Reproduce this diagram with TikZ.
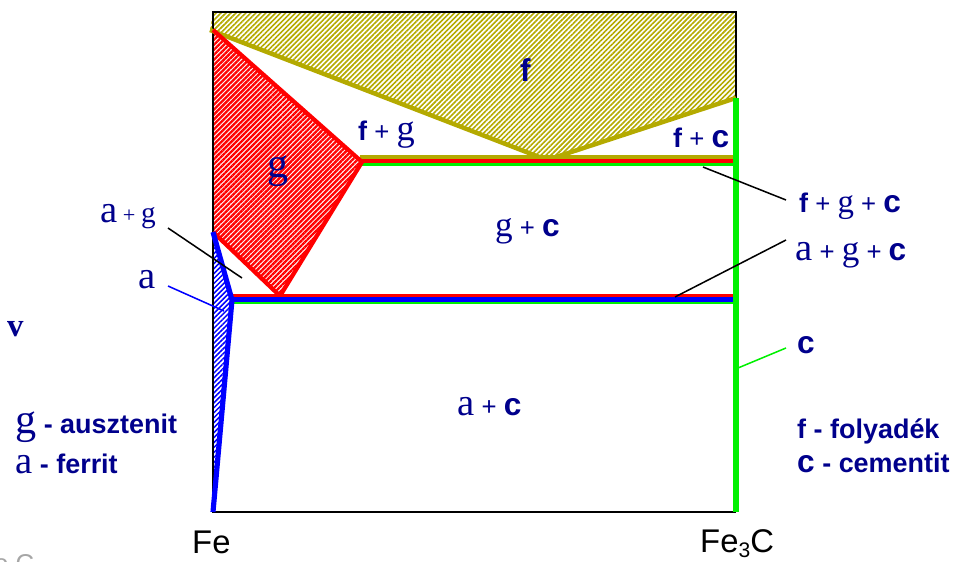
\documentclass[tikz,border=0pt]{standalone}
\usepackage{fontspec}
\setmainfont{Liberation Sans}
\newfontfamily\serf{Liberation Serif}
\usetikzlibrary{patterns.meta}
\definecolor{ink}{RGB}{0,0,140}
\definecolor{olv}{RGB}{180,170,0}
\definecolor{grn}{RGB}{0,240,0}
\newcommand\alf{{\serf\mdseries\fontsize{33}{33}\selectfont a}}
\newcommand\gam[1]{{\serf\mdseries\fontsize{#1}{#1}\selectfont g}}
\newcommand\cem{{\fontsize{27}{27}\selectfont c}}
\newcommand\pl{{\mdseries\fontsize{22}{22}\selectfont\ +\ }}
\newcommand\spl{{\serf\mdseries\fontsize{19}{19}\selectfont\ +\ }}
\tikzset{
  lbl/.style={text=ink,font=\bfseries\fontsize{23}{27}\selectfont,inner sep=0pt,anchor=base west},
  axis/.style={font=\fontsize{28}{28}\selectfont,inner sep=0pt,anchor=base west},
  hatch/.style={pattern={Lines[angle=45,distance=3pt,line width=#1]}},
  leader/.style={line width=1.3pt}
}
\begin{document}
\begin{tikzpicture}[x=0.03cm,y=-0.03cm]
\useasboundingbox (0,0) rectangle (954,562);
% phase fields
\fill[hatch=1.4pt,pattern color=olv] (213,12) -- (736,12) -- (736,98) -- (547,160) -- (210,30) -- cycle;
\fill[hatch=2pt,pattern color=red] (213,30) -- (362,162) -- (280,296) -- (213,232) -- cycle;
\fill[hatch=1.3pt,pattern color=blue] (213,232) -- (232,300) -- (213,512) -- cycle;
% frame
\draw[line width=2pt] (736,98) -- (736,12) -- (213,12) -- (213,512) -- (736,512);
% liquidus
\draw[olv,line width=3.8pt,line join=round] (210,30) -- (547,160) -- (736,98);
% eutectic
\draw[grn,line width=3.4pt] (362,164) -- (736,164);
\draw[red,line width=3.4pt] (362,161) -- (736,161);
\draw[olv,line width=3pt] (360,157) -- (736,157);
% gamma boundary
\draw[red,line width=3.6pt,line join=round] (213,30) -- (362,162) -- (280,296) -- (213,232);
% eutectoid
\draw[grn,line width=2.4pt] (230,303) -- (736,303);
\draw[blue,line width=4.5pt] (230,299) -- (736,299);
\draw[red,line width=1.8pt] (230,295.5) -- (736,295.5);
% alpha boundary
\draw[blue,line width=4.4pt,line join=round] (213,232) -- (232,300) -- (213,512);
% cementite
\draw[grn,line width=4.4pt] (736,98) -- (736,512);

% field labels
\node[lbl,font=\bfseries\fontsize{27}{27}\selectfont] (L) at (520,81) {f};
\node[lbl] (LG) at (358,140) {f\pl\gam{31}};
\node[lbl] (LC) at (673,147) {f\pl\cem};
\node[lbl] (G) at (267,177) {\gam{36}};
\node[lbl] (GC) at (495,236) {\gam{30}\pl\cem};
\node[lbl] (AC) at (457,415) {\alf\pl\cem};
\node[lbl] (AG) at (100,222) {\alf\spl\gam{25}};
\node[lbl] (A) at (138,288) {\alf};
\node[lbl] (LGC) at (799,212) {f\pl\gam{28}\pl\cem};
\node[lbl] (AGC) at (795,260) {\alf\pl\gam{30}\pl\cem};
\node[lbl] (C) at (797,353) {\cem};
\node[lbl,font=\serf\bfseries\fontsize{28}{28}\selectfont] (T) at (7,336) {v};
% legend
\node[lbl] (leg1) at (15,433) {\gam{36} - ausztenit};
\node[lbl] (leg2) at (15,473) {\alf\ - ferrit};
\node[lbl] (leg3) at (797,438) {f - folyadék};
\node[lbl] (leg4) at (797,472) {\cem\ - cementit};
% axis
\node[axis] (fe) at (192,553) {Fe};
\node[axis] (fec) at (700,552) {Fe\raisebox{-5pt}{\fontsize{18}{18}\selectfont 3}C};
\node[axis,text=black!35,font=\fontsize{22}{22}\selectfont] (unit) at (-6,572) {o C};

% leaders
\coordinate (agA) at (168,228); \coordinate (agB) at (242,278);
\coordinate (aA) at (168,286); \coordinate (aB) at (224,311);
\coordinate (lgcA) at (786,200); \coordinate (lgcB) at (703,167);
\coordinate (agcA) at (786,240); \coordinate (agcB) at (675,297);
\coordinate (cA) at (786,348); \coordinate (cB) at (738,368);
\draw[leader] (agA) -- (agB);
\draw[leader,blue] (aA) -- (aB);
\draw[leader] (lgcA) -- (lgcB);
\draw[leader] (agcA) -- (agcB);
\draw[leader,grn] (cA) -- (cB);
\end{tikzpicture}
\end{document}
